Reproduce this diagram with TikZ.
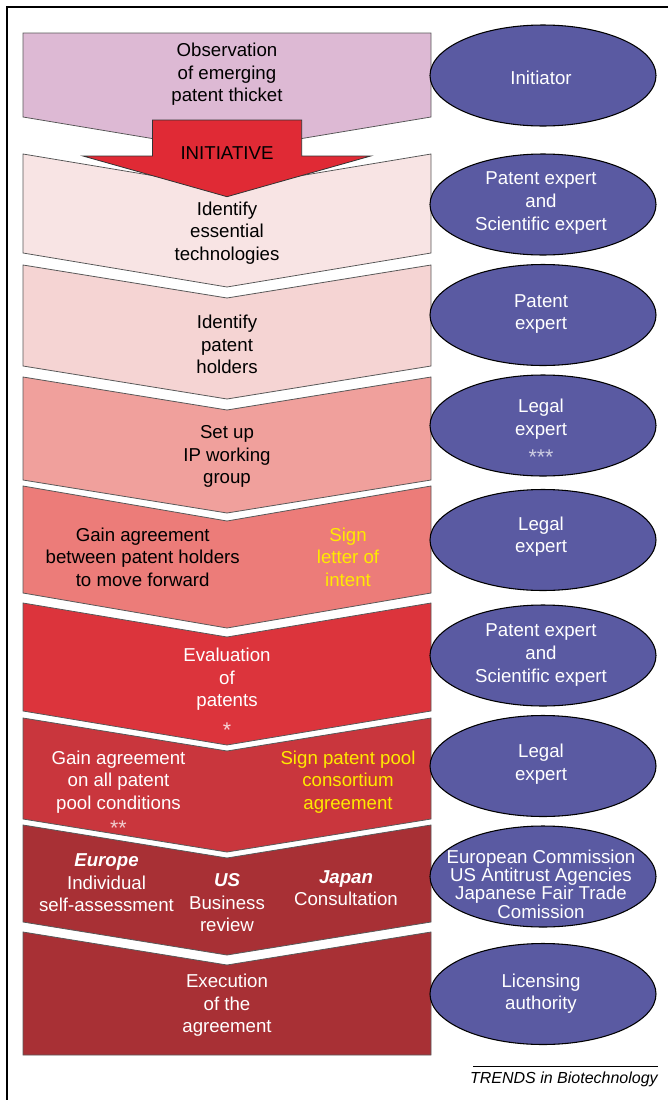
\documentclass[tikz,border=0pt]{standalone}
\usepackage{fontspec}
\setmainfont{Liberation Sans}
\usetikzlibrary{shapes.geometric}
\definecolor{cA}{HTML}{DDB9D4}
\definecolor{cB}{HTML}{F8E4E4}
\definecolor{cC}{HTML}{F5D4D3}
\definecolor{cD}{HTML}{F0A09C}
\definecolor{cE}{HTML}{EC7C79}
\definecolor{cF}{HTML}{DC343C}
\definecolor{cG}{HTML}{C9363D}
\definecolor{cH}{HTML}{A83035}
\definecolor{arrowred}{HTML}{E02A35}
\definecolor{ellblue}{HTML}{5A5AA2}
\definecolor{yel}{HTML}{FFEA00}
\newcommand\chevbox[4]{%
  \filldraw[box, fill=#4] (23,#1) -- (227,{#1+#3}) -- (431,#1) -- (431,#2) -- (227,{#2+#3}) -- (23,#2) -- cycle;}
\begin{document}
\begin{tikzpicture}[x=0.75pt,y=-0.75pt,
  box/.style={draw=black!65, line width=0.6pt},
  ell/.style={draw=black, line width=0.8pt, fill=ellblue, ellipse, minimum width=169.5pt, minimum height=75.75pt, inner sep=0pt},
  txt/.style={align=center, font=\fontsize{14}{16.9}\selectfont, inner sep=0pt},
  etxt/.style={txt, text=white},
  stars/.style={anchor=base, inner sep=0pt, font=\fontsize{16}{18}\selectfont}]
\useasboundingbox (0,0) rectangle (668,1100);
% frame
\draw[line width=1.5pt] (7.3,1100) -- (7.3,7.3) -- (668,7.3);
% boxes
\filldraw[box, fill=cA] (23,33) -- (431,33) -- (431,117) -- (227,151) -- (23,117) -- cycle;
\chevbox{154}{253}{34}{cB}
% arrow
\filldraw[draw=black!80, line width=0.6pt, fill=arrowred] (152.5,120) -- (301.7,120) -- (301.7,156) -- (370.7,156) -- (227,196.7) -- (83,156) -- (152.5,156) -- cycle;
\chevbox{265}{366}{33}{cC}
\chevbox{377}{480}{33}{cD}
\chevbox{486}{593}{35}{cE}
\chevbox{603}{711}{34}{cF}
\chevbox{718}{819}{33}{cG}
\chevbox{825}{922}{33}{cH}
\filldraw[box, fill=cH] (23,932) -- (227,965) -- (431,932) -- (431,1055) -- (23,1055) -- cycle;
% box texts
\node[txt] (t1) at (227,74.5) {Observation\\of emerging\\patent thicket};
\node[txt] (init) at (227,152.7) {INITIATIVE};
\node[txt] (t2) at (227,233) {Identify\\essential\\technologies};
\node[txt] (t3) at (227,344.5) {Identify\\patent\\holders};
\node[txt] (t4) at (227,456.7) {Set up\\IP working\\group};
\node[txt] (t5a) at (142.7,557) {Gain agreement\\between patent holders\\to move forward};
\node[txt, text=yel] (t5b) at (348,557) {Sign\\letter of\\intent};
\node[etxt] (t6) at (227,679.3) {Evaluation\\of\\patents};
\node[stars, text=white!80!cF] (s6) at (227,737) {*};
\node[etxt] (t7a) at (118.5,781.7) {Gain agreement\\on all patent\\pool conditions};
\node[stars, text=white!75!cG] (s7) at (118.5,835) {**};
\node[txt, text=yel] (t7b) at (348,781.7) {Sign patent pool\\consortium\\agreement};
\node[etxt] (t8a) at (106.5,883) {{\bfseries\itshape Europe}\\Individual\\self-assessment};
\node[etxt] (t8b) at (227,903) {{\bfseries\itshape US}\\Business\\review};
\node[etxt] (t8c) at (346,888) {{\bfseries\itshape Japan}\\Consultation};
\node[etxt] (t9) at (227,1005.3) {Execution\\of the\\agreement};
% ellipses
\node[ell] (e1) at (543,75.5) {};
\node[ell] (e2) at (543,204.5) {};
\node[ell] (e3) at (543,315) {};
\node[ell] (e4) at (543,425.5) {};
\node[ell] (e5) at (543,540) {};
\node[ell] (e6) at (543,655.5) {};
\node[ell] (e7) at (543,766) {};
\node[ell] (e8) at (543,876.5) {};
\node[ell] (e9) at (543,994) {};
\node[etxt] (l1) at (541,77.7) {Initiator};
\node[etxt] (l2) at (541,203) {Patent expert\\and\\Scientific expert};
\node[etxt] (l3) at (541,314) {Patent\\expert};
\node[etxt] (l4) at (541,419.2) {Legal\\expert};
\node[stars, text=white!70!ellblue] (s4) at (541,464.5) {***};
\node[etxt] (l5) at (541,536.5) {Legal\\expert};
\node[etxt] (l6) at (541,655) {Patent expert\\and\\Scientific expert};
\node[etxt] (l7) at (541,764) {Legal\\expert};
\node[etxt, font=\fontsize{14}{13.75}\selectfont] (l8) at (541,884) {European Commission\\US Antitrust Agencies\\Japanese Fair Trade\\Comission};
\node[etxt] (l9) at (541,993.5) {Licensing\\authority};
% source line
\draw[line width=0.5pt] (473,1066.7) -- (658,1066.7);
\node[anchor=base east, inner sep=0pt, font=\fontsize{12}{14}\selectfont\itshape] (trends) at (658,1083) {TRENDS in Biotechnology};
\end{tikzpicture}
\end{document}
